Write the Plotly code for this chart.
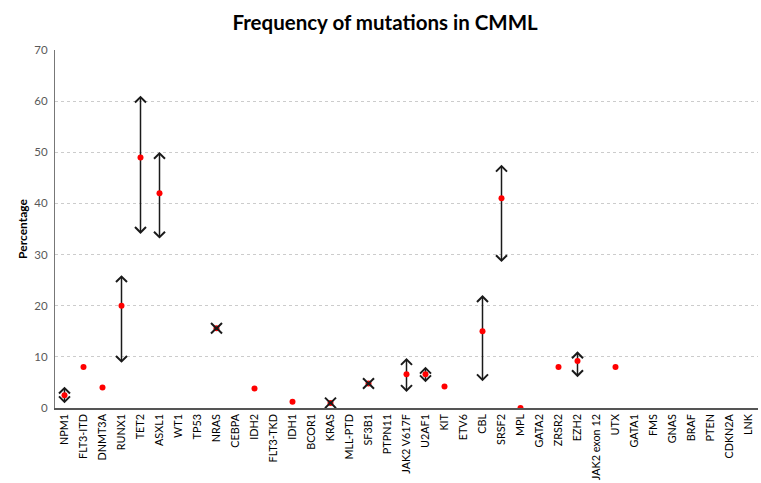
import plotly.graph_objects as go

categories = ["NPM1", "FLT3-ITD", "DNMT3A", "RUNX1", "TET2", "ASXL1", "WT1", "TP53", "NRAS", "CEBPA",
              "IDH2", "FLT3-TKD", "IDH1", "BCOR1", "KRAS", "MLL-PTD", "SF3B1", "PTPN11", "JAK2 V617F", "U2AF1",
              "KIT", "ETV6", "CBL", "SRSF2", "MPL", "GATA2", "ZRSR2", "EZH2", "JAK2 exon 12", "UTX",
              "GATA1", "FMS", "GNAS", "BRAF", "PTEN", "CDKN2A", "LNK"]

frequency = [2.5, 8.0, 4.0, 20.0, 49.0, 42.0, None, None, 15.6, None,
             3.8, None, 1.2, None, 1.0, None, 4.8, None, 6.6, 6.6,
             4.2, None, 15.0, 41.0, 0.0, None, 8.0, 9.2, None, 8.0,
             None, None, None, None, None, None, None]

range_low = [1.2, None, None, 9.1, 34.3, 33.4, None, None, 15.55, None,
             None, None, None, None, 0.95, None, 4.75, None, 3.4, 5.3,
             None, None, 5.5, 28.8, None, None, None, 6.3, None, None,
             None, None, None, None, None, None, None]

range_high = [3.9, None, None, 25.7, 60.8, 49.8, None, None, 15.65, None,
              None, None, None, None, 1.05, None, 4.85, None, 9.5, 7.8,
              None, None, 21.8, 47.3, None, None, None, 10.8, None, None,
              None, None, None, None, None, None, None]

x_idx = list(range(len(categories)))
ARROW = "#1a1a1a"

fig = go.Figure()

# range shafts
sx, sy = [], []
for i, (lo, hi) in enumerate(zip(range_low, range_high)):
    if lo is None or hi is None:
        continue
    sx += [i, i, None]
    sy += [lo, hi, None]
fig.add_trace(go.Scatter(x=sx, y=sy, mode="lines", line=dict(color=ARROW, width=1.5),
                         showlegend=False, hoverinfo="skip"))

# chevron arrow heads (fixed pixel size, anchored at data ends)
shapes = []
h = 5.5
for i, (lo, hi) in enumerate(zip(range_low, range_high)):
    if lo is None or hi is None:
        continue
    shapes.append(dict(type="path", xref="x", yref="y", xsizemode="pixel", ysizemode="pixel",
                       xanchor=i, yanchor=hi, path=f"M{-h},{-h} L0,0 L{h},{-h}",
                       line=dict(color=ARROW, width=2), layer="above"))
    shapes.append(dict(type="path", xref="x", yref="y", xsizemode="pixel", ysizemode="pixel",
                       xanchor=i, yanchor=lo, path=f"M{-h},{h} L0,0 L{h},{h}",
                       line=dict(color=ARROW, width=2), layer="above"))

fig.add_trace(go.Scatter(
    x=x_idx, y=frequency, mode="markers",
    marker=dict(color="#ff0000", size=6, symbol="circle"),
    showlegend=False, hoverinfo="skip"))

fig.update_layout(
    width=761, height=483,
    margin=dict(l=55, r=3, t=50, b=75),
    paper_bgcolor="white", plot_bgcolor="white",
    title=dict(text="<b>Frequency of mutations in CMML</b>", x=0.506, xanchor="center",
               y=0.952, yanchor="middle", font=dict(family="Lato", size=20.5, color="#000000")),
    shapes=shapes,
    font=dict(family="Lato"),
)

fig.update_xaxes(
    range=[-0.5, len(categories) - 0.5],
    tickmode="array", tickvals=x_idx, ticktext=categories,
    tickangle=-90, tickfont=dict(family="Lato", size=10.8, color="#000000"),
    showgrid=False, zeroline=False, showline=True, linecolor="#555555", linewidth=1.5,
    ticks="", fixedrange=True, automargin=False)

fig.update_yaxes(
    range=[0, 70], dtick=10, tick0=0,
    showgrid=True, gridcolor="#cccccc", griddash="dot", gridwidth=1,
    zeroline=False, showline=True, linecolor="#777777", linewidth=1.2,
    tickfont=dict(family="Lato", size=11.5, color="#595959"),
    ticks="", ticklabelstandoff=4, automargin=False,
    title=dict(text="<b>Percentage</b>", font=dict(family="Lato", size=12, color="#000000"), standoff=4))

fig.write_html("out.html", config={"displayModeBar": False},
               post_script="document.body.style.margin='0px';document.body.style.overflow='hidden';")
